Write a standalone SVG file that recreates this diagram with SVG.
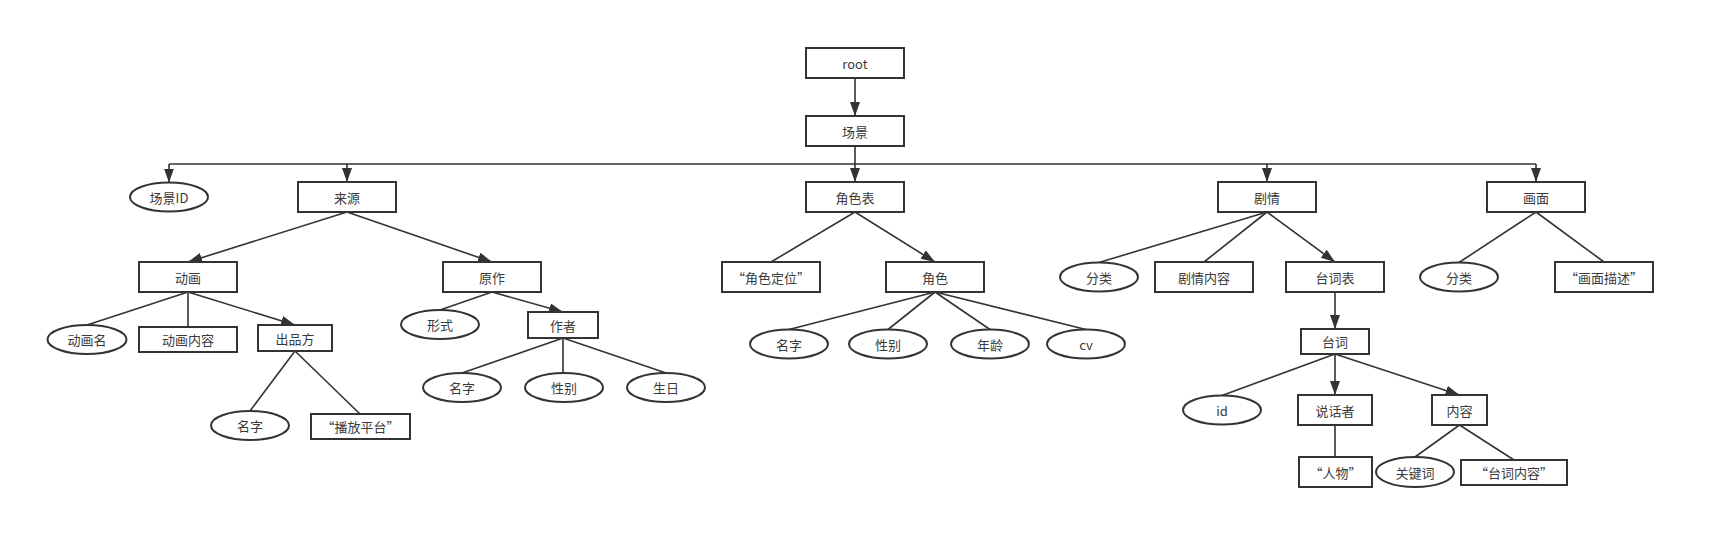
<svg xmlns="http://www.w3.org/2000/svg" width="1715" height="549" viewBox="0 0 1715 549">
<style>
.b{fill:#fff;stroke:#333;stroke-width:2}
.t{font-family:"Noto Sans CJK SC","Liberation Sans",sans-serif;font-size:13px;fill:#3a3a3a;text-anchor:middle;dominant-baseline:central}
.c{fill:none;stroke:#333;stroke-width:1.6}
.a{marker-end:url(#ah)}
</style>
<defs>
<marker id="ah" markerUnits="userSpaceOnUse" markerWidth="15" markerHeight="11" refX="14" refY="5" orient="auto"><path d="M0,0 L14,5 L0,10 z" fill="#333"/></marker>
</defs>
<rect width="1715" height="549" fill="#fff"/>
<g id="connectors">
<path class="c a" d="M855,78 V116"/>
<path class="c a" d="M855,146 V182"/>
<path class="c" d="M169,164 H1536"/>
<path class="c a" d="M169,164 V182.5"/>
<path class="c a" d="M347,164 V182"/>
<path class="c a" d="M1267,164 V182"/>
<path class="c a" d="M1536,164 V182"/>
<path class="c a" d="M347,212 L188,262"/>
<path class="c a" d="M347,212 L492,262"/>
<path class="c" d="M188,292 L87,325"/>
<path class="c" d="M188,292 V327"/>
<path class="c a" d="M188,292 L295,325"/>
<path class="c" d="M295,351 L250,411"/>
<path class="c" d="M295,351 L360,414"/>
<path class="c" d="M492,292 L440,310"/>
<path class="c a" d="M492,292 L563,312"/>
<path class="c" d="M563,338 L462,373"/>
<path class="c" d="M563,338 V373"/>
<path class="c" d="M563,338 L666,373"/>
<path class="c" d="M855,212 L771,262"/>
<path class="c a" d="M855,212 L935,262"/>
<path class="c" d="M935,292 L789,329.5"/>
<path class="c" d="M935,292 L888,329.5"/>
<path class="c" d="M935,292 L990,329.5"/>
<path class="c" d="M935,292 L1086,329.5"/>
<path class="c" d="M1267,212 L1099,262.5"/>
<path class="c" d="M1267,212 L1204,262"/>
<path class="c a" d="M1267,212 L1335,262"/>
<path class="c a" d="M1335,292 V329"/>
<path class="c" d="M1335,354 L1222,395.5"/>
<path class="c a" d="M1335,354 V395"/>
<path class="c a" d="M1335,354 L1459.5,395"/>
<path class="c" d="M1335,425 V457"/>
<path class="c" d="M1459.5,425 L1415,457"/>
<path class="c" d="M1459.5,425 L1514,460"/>
<path class="c" d="M1536,212 L1459,262.5"/>
<path class="c" d="M1536,212 L1604,262"/>
</g>
<g id="root"><rect class="b" x="806" y="48" width="98" height="30"/><text class="t" x="855" y="63">root</text></g>
<g id="scene"><rect class="b" x="806" y="116" width="98" height="30"/><text class="t" x="855" y="131">场景</text></g>
<g id="sceneID"><ellipse class="b" cx="169" cy="197" rx="39" ry="14.5"/><text class="t" x="169" y="197">场景ID</text></g>
<g id="source"><rect class="b" x="298" y="182" width="98" height="30"/><text class="t" x="347" y="197">来源</text></g>
<g id="roleTable"><rect class="b" x="806" y="182" width="98" height="30"/><text class="t" x="855" y="197">角色表</text></g>
<g id="plot"><rect class="b" x="1218" y="182" width="98" height="30"/><text class="t" x="1267" y="197">剧情</text></g>
<g id="picture"><rect class="b" x="1487" y="182" width="98" height="30"/><text class="t" x="1536" y="197">画面</text></g>
<g id="anim"><rect class="b" x="139" y="262" width="98" height="30"/><text class="t" x="188" y="277">动画</text></g>
<g id="original"><rect class="b" x="443" y="262" width="98" height="30"/><text class="t" x="492" y="277">原作</text></g>
<g id="roleLoc"><rect class="b" x="722" y="262" width="98" height="30"/><text class="t" x="771" y="277">“角色定位”</text></g>
<g id="role"><rect class="b" x="886" y="262" width="98" height="30"/><text class="t" x="935" y="277">角色</text></g>
<g id="plotCat"><ellipse class="b" cx="1099" cy="277" rx="39" ry="14.5"/><text class="t" x="1099" y="277">分类</text></g>
<g id="plotContent"><rect class="b" x="1155" y="262" width="98" height="30"/><text class="t" x="1204" y="277">剧情内容</text></g>
<g id="lineTable"><rect class="b" x="1286" y="262" width="98" height="30"/><text class="t" x="1335" y="277">台词表</text></g>
<g id="picCat"><ellipse class="b" cx="1459" cy="277" rx="39" ry="14.5"/><text class="t" x="1459" y="277">分类</text></g>
<g id="picDesc"><rect class="b" x="1555" y="262" width="98" height="30"/><text class="t" x="1604" y="277">“画面描述”</text></g>
<g id="animName"><ellipse class="b" cx="87" cy="339.5" rx="39.5" ry="14.5"/><text class="t" x="87" y="339.5">动画名</text></g>
<g id="animContent"><rect class="b" x="139" y="327" width="98" height="25"/><text class="t" x="188" y="339.5">动画内容</text></g>
<g id="producer"><rect class="b" x="258" y="325" width="74" height="26"/><text class="t" x="295" y="338">出品方</text></g>
<g id="form"><ellipse class="b" cx="440" cy="324.5" rx="39" ry="14.5"/><text class="t" x="440" y="324.5">形式</text></g>
<g id="author"><rect class="b" x="528" y="312" width="70" height="26"/><text class="t" x="563" y="325">作者</text></g>
<g id="producerName"><ellipse class="b" cx="250" cy="425.5" rx="39" ry="14.5"/><text class="t" x="250" y="425.5">名字</text></g>
<g id="platform"><rect class="b" x="311" y="414" width="99" height="25"/><text class="t" x="360.5" y="426.5">“播放平台”</text></g>
<g id="authorName"><ellipse class="b" cx="462" cy="387.5" rx="39" ry="14.5"/><text class="t" x="462" y="387.5">名字</text></g>
<g id="authorGender"><ellipse class="b" cx="564" cy="387.5" rx="39" ry="14.5"/><text class="t" x="564" y="387.5">性别</text></g>
<g id="authorBirthday"><ellipse class="b" cx="666" cy="387.5" rx="39" ry="14.5"/><text class="t" x="666" y="387.5">生日</text></g>
<g id="roleName"><ellipse class="b" cx="789" cy="344" rx="39" ry="14.5"/><text class="t" x="789" y="344">名字</text></g>
<g id="roleGender"><ellipse class="b" cx="888" cy="344" rx="39" ry="14.5"/><text class="t" x="888" y="344">性别</text></g>
<g id="roleAge"><ellipse class="b" cx="990" cy="344" rx="39" ry="14.5"/><text class="t" x="990" y="344">年龄</text></g>
<g id="roleCV"><ellipse class="b" cx="1086" cy="344" rx="39" ry="14.5"/><text class="t" x="1086" y="344">cv</text></g>
<g id="line"><rect class="b" x="1301" y="329" width="68" height="25"/><text class="t" x="1335" y="341.5">台词</text></g>
<g id="lineId"><ellipse class="b" cx="1222" cy="410" rx="39" ry="14.5"/><text class="t" x="1222" y="410">id</text></g>
<g id="speaker"><rect class="b" x="1298" y="395" width="74" height="30"/><text class="t" x="1335" y="410">说话者</text></g>
<g id="content"><rect class="b" x="1432" y="395" width="55" height="30"/><text class="t" x="1459.5" y="410">内容</text></g>
<g id="person"><rect class="b" x="1299" y="457" width="73" height="30"/><text class="t" x="1335.5" y="472">“人物”</text></g>
<g id="keyword"><ellipse class="b" cx="1415" cy="472" rx="39" ry="15"/><text class="t" x="1415" y="472">关键词</text></g>
<g id="lineContent"><rect class="b" x="1461" y="460" width="106" height="25"/><text class="t" x="1514" y="472.5">“台词内容”</text></g>
</svg>
